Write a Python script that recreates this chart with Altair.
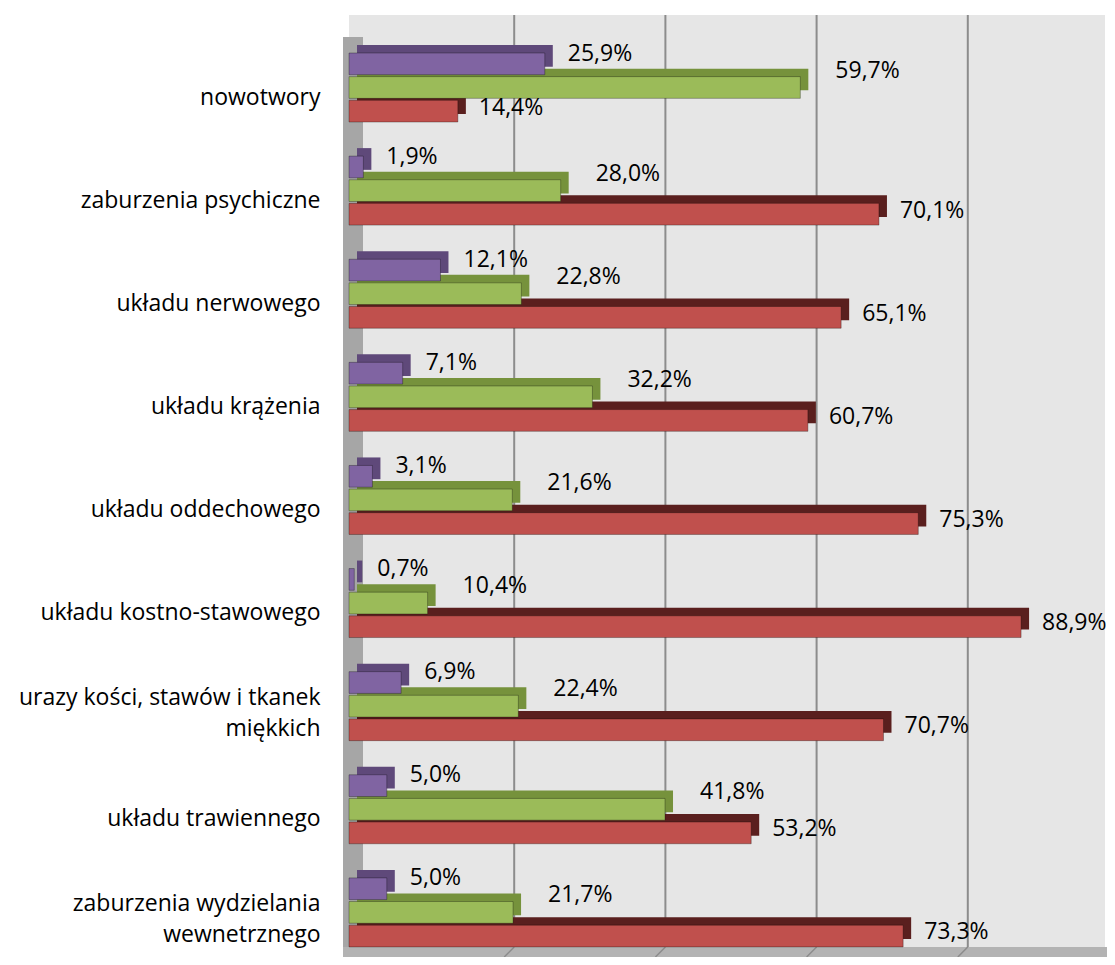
import altair as alt
import pandas as pd

categories = [
    "nowotwory",
    "zaburzenia psychiczne",
    "układu nerwowego",
    "układu krążenia",
    "układu oddechowego",
    "układu kostno-stawowego",
    "urazy kości, stawów i tkanek\nmiękkich",
    "układu trawiennego",
    "zaburzenia wydzielania\nwewnetrznego",
]
series = ["Seria 1", "Seria 2", "Seria 3"]
purple_values = [25.9, 1.9, 12.1, 7.1, 3.1, 0.7, 6.9, 5.0, 5.0]
green_values = [59.7, 28.0, 22.8, 32.2, 21.6, 10.4, 22.4, 41.8, 21.7]
red_values = [14.4, 70.1, 65.1, 60.7, 75.3, 88.9, 70.7, 53.2, 73.3]
grid_ticks = [20, 40, 60, 80]

front_colors = ["#8064a2", "#9bbb59", "#c0504d"]
dark_colors = ["#5f497a", "#76923c", "#5a1f1e"]

rows = []
for s, vals in zip(series, [purple_values, green_values, red_values]):
    for c, v in zip(categories, vals):
        rows.append({"category": c, "series": s, "value": v,
                     "label": f"{v:.1f}%".replace(".", ",")})
df = pd.DataFrame(rows)
grid_df = pd.DataFrame({"tick": grid_ticks})

W = 756
H = 942
LEFT = 341
TOP = 7
RIGHT = 1099 - LEFT - W
FONT = "Open Sans"
DEPTH = 8
FLOOR = 10

y_enc = alt.Y(
    "category:N",
    sort=categories,
    scale=alt.Scale(domain=categories, range=[21, 949], paddingInner=0, paddingOuter=0),
    axis=alt.Axis(
        title=None, domain=False, ticks=False, grid=False,
        labelFont=FONT, labelFontSize=23, labelColor="#000000",
        labelPadding=29, labelLimit=400, minExtent=LEFT, maxExtent=LEFT,
        labelExpr="split(datum.label, '\\n')", labelLineHeight=31,
        labelOffset={"condition": {"test": "indexof(datum.value, '\\n') >= 0", "value": -8},
                     "value": 10},
        labelAlign="right",
    ),
)


def yoff(lo, hi):
    return alt.YOffset(
        "series:N", sort=series,
        scale=alt.Scale(domain=series, range=[lo, hi], paddingInner=0.08, paddingOuter=0),
    )


x_enc = alt.X("value:Q", scale=alt.Scale(domain=[0, 100], nice=False, zero=True), axis=None)
x_grid = alt.X("tick:Q", scale=alt.Scale(domain=[0, 100], nice=False, zero=True), axis=None)

base = alt.Chart(df)

left_wall = alt.Chart(grid_df).mark_rect(color="#a6a6a6").encode(
    x=alt.value(-6), x2=alt.value(14), y=alt.value(22), y2=alt.value(H)
)
floor = alt.Chart(grid_df).mark_rect(color="#b3b3b3").encode(
    x=alt.value(-6), x2=alt.value(W + 10), y=alt.value(H - FLOOR), y2=alt.value(H)
)
grid = alt.Chart(grid_df).mark_rule(color="#8c8c8c", strokeWidth=2, xOffset=14).encode(
    x=x_grid, y=alt.value(0), y2=alt.value(H - FLOOR),
)
floor_grid = alt.Chart(grid_df).mark_rule(color="#8c8c8c", strokeWidth=1.5, xOffset=14, x2Offset=4).encode(
    x=x_grid, x2="tick:Q", y=alt.value(H - FLOOR), y2=alt.value(H),
)

depth = base.mark_bar(xOffset=DEPTH, x2Offset=DEPTH).encode(
    x=x_enc, y=y_enc, yOffset=yoff(17 - DEPTH, 86 - DEPTH),
    color=alt.Color("series:N", scale=alt.Scale(domain=series, range=dark_colors), legend=None),
)
front = base.mark_bar(strokeWidth=1, strokeOpacity=0.3, stroke="#000000").encode(
    x=x_enc, y=y_enc, yOffset=yoff(17, 86),
    color=alt.Color("series:N", scale=alt.Scale(domain=series, range=front_colors), legend=None),
)

# label offsets (dx from bar end, dy from category centre)
label_params = {"Seria 1": (23, -34), "Seria 2": (35, -17), "Seria 3": (21, 20)}
labels = []
for s in series:
    dx, dy = label_params[s]
    labels.append(
        base.transform_filter(alt.datum.series == s)
        .mark_text(align="left", baseline="middle", font=FONT, fontSize=23,
                   color="#000000", dx=dx, dy=dy)
        .encode(x=x_enc, y=y_enc, text="label:N")
    )

chart = alt.layer(left_wall, floor, grid, floor_grid, depth, front, *labels).resolve_scale(
    color="independent", yOffset="independent"
).properties(
    width=W, height=H,
    padding={"left": LEFT, "top": TOP, "right": RIGHT, "bottom": 0},
    autosize=alt.AutoSizeParams(type="none"),
).configure_view(
    fill="#e6e6e6", stroke=None
)

chart.save("out.html", embed_options={"renderer": "svg", "actions": False})
